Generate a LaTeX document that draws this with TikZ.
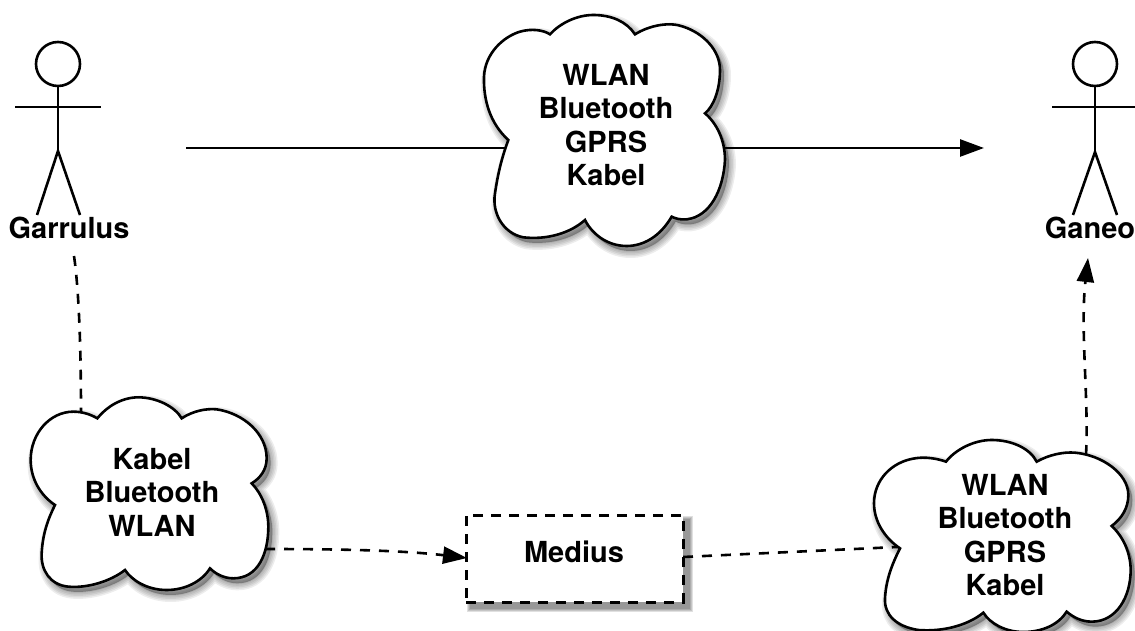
\documentclass[tikz,border=0pt]{standalone}
\usepackage{fontspec}
\setmainfont{TeX Gyre Heros}
\usetikzlibrary{arrows.meta,backgrounds}
\newcommand{\cloudTop}{(240,103) .. controls (270,70) and (320,45) .. (370,45) .. controls (425,45) and (470,65) .. (495,103)
 .. controls (540,75) and (600,65) .. (640,80) .. controls (700,100) and (750,150) .. (750,210) .. controls (750,270) and (730,320) .. (705,340)
 .. controls (740,370) and (765,420) .. (765,480) .. controls (760,570) and (720,650) .. (650,658) .. controls (630,660) and (615,655) .. (605,650)
 .. controls (570,710) and (520,738) .. (470,738) .. controls (410,738) and (365,700) .. (345,660)
 .. controls (300,700) and (230,720) .. (160,712) .. controls (100,700) and (65,640) .. (75,580) .. controls (85,510) and (100,460) .. (115,420)
 .. controls (60,370) and (40,300) .. (42,230) .. controls (45,160) and (100,110) .. (150,95) .. controls (185,85) and (220,90) .. (240,103) -- cycle}
\newcommand{\cloudLeft}{(292,85) .. controls (320,50) and (365,22) .. (415,22) .. controls (470,22) and (525,50) .. (545,85)
 .. controls (580,62) and (620,55) .. (650,58) .. controls (730,70) and (800,130) .. (800,205) .. controls (800,240) and (780,265) .. (755,280)
 .. controls (785,310) and (805,360) .. (805,410) .. controls (805,490) and (775,565) .. (700,565) .. controls (670,565) and (645,550) .. (630,535)
 .. controls (605,575) and (555,600) .. (500,600) .. controls (440,600) and (395,570) .. (375,540)
 .. controls (330,575) and (260,595) .. (205,590) .. controls (150,585) and (122,540) .. (125,490) .. controls (128,430) and (145,385) .. (165,345)
 .. controls (120,315) and (92,265) .. (92,210) .. controls (92,130) and (150,65) .. (220,65) .. controls (245,65) and (270,72) .. (292,85) -- cycle}
\newcommand{\cloudRight}{(258,95) .. controls (285,60) and (340,30) .. (395,30) .. controls (455,30) and (510,55) .. (530,95)
 .. controls (565,75) and (610,65) .. (645,68) .. controls (725,75) and (805,130) .. (805,195) .. controls (805,235) and (785,265) .. (755,288)
 .. controls (790,320) and (812,370) .. (812,420) .. controls (812,500) and (770,575) .. (695,575) .. controls (665,575) and (640,562) .. (620,545)
 .. controls (595,585) and (545,606) .. (490,606) .. controls (435,606) and (390,580) .. (370,548)
 .. controls (325,585) and (250,606) .. (175,600) .. controls (110,590) and (72,555) .. (75,505) .. controls (78,445) and (100,395) .. (120,355)
 .. controls (75,325) and (42,275) .. (42,220) .. controls (42,150) and (95,95) .. (165,85) .. controls (195,80) and (230,85) .. (258,95) -- cycle}
\tikzset{
  px/.style={x=1pt,y=-1pt},
  zoomcoords/.style={x=.33333pt,y=-.33333pt},
  stroke/.style={draw=black,line width=2.6pt},
  softshadow/.style={fill=black,draw=black,opacity=.07,line join=round},
  cloudline/.style={stroke,fill=white,line join=miter},
  label/.style={font=\fontsize{29}{33.5}\selectfont\bfseries,align=center,text=black,inner sep=0pt},
  head/.style={circle,stroke,minimum size=44pt,inner sep=0pt},
  limb/.style={stroke},
  solidlink/.style={stroke,-{Triangle[length=24pt,width=17pt]}},
  dashlink/.style={stroke,dash pattern=on 10pt off 9pt,-{Triangle[length=24pt,width=17pt]}},
  dashplain/.style={stroke,dash pattern=on 10pt off 9pt},
  mediusbox/.style={draw=black,line width=3pt,dash pattern=on 10pt off 8pt,fill=white,minimum width=217pt,minimum height=87pt,inner sep=0pt}
}
\newcommand{\softcloud}[3]{%
  \foreach \w in {14,11,8,5,2}{
    \begin{scope}[shift={(#1+4,#2+5)},zoomcoords]
      \path[softshadow,line width=\w pt] #3;
    \end{scope}
  }
  \begin{scope}[shift={(#1,#2)},zoomcoords]
    \path[cloudline] #3;
  \end{scope}}
\begin{document}
\begin{tikzpicture}[px]
\useasboundingbox (0,0) rectangle (1135,631);
% clouds
\softcloud{470}{0}{\cloudTop}
\softcloud{0}{390}{\cloudLeft}
\softcloud{860}{430}{\cloudRight}
\node[label] (cloudA) at (606,125) {WLAN\\Bluetooth\\GPRS\\Kabel};
\node[label] (cloudB) at (152,492) {Kabel\\Bluetooth\\WLAN};
\node[label] (cloudC) at (1005,535) {WLAN\\Bluetooth\\GPRS\\Kabel};
% medius
\foreach \w in {8,6,4,2}{
  \fill[black,opacity=.12] (471-\w/2,520-\w/2) rectangle (689+\w/2,608+\w/2);
}
\node[mediusbox] (medius) at (574.5,558.5) {};
\node[label] (mediusText) at (574,552) {Medius};
% actors
\node[head] (headG) at (58,64) {};
\coordinate (hipG) at (58,151);
\coordinate (armGl) at (15,107);
\coordinate (armGr) at (101,107);
\coordinate (footGl) at (37,215);
\coordinate (footGr) at (80,215);
\draw[limb] (headG.south) -- (hipG);
\draw[limb] (armGl) -- (armGr);
\draw[limb] (footGl) -- (hipG) -- (footGr);
\node[label] (garrulus) at (69,228) {Garrulus};
\node[head] (headR) at (1095,64) {};
\coordinate (hipR) at (1095,152);
\coordinate (armRl) at (1052,107);
\coordinate (armRr) at (1135,107);
\coordinate (footRl) at (1073,215);
\coordinate (footRr) at (1117,215);
\draw[limb] (headR.south) -- (hipR);
\draw[limb] (armRl) -- (armRr);
\draw[limb] (footRl) -- (hipR) -- (footRr);
\node[label] (ganeo) at (1090,228) {Ganeo};
% connector ends
\coordinate (solidStart) at (186,148);
\coordinate (solidEnd) at (984,148);
\coordinate (gDash) at (74,256);
\coordinate (bTop) at (81,412);
\coordinate (bRight) at (265,549);
\coordinate (mIn) at (467,558);
\coordinate (mOut) at (683,557);
\coordinate (cLeft) at (897,547);
\coordinate (cTop) at (1086,455);
\coordinate (gIn) at (1088,258);
\begin{scope}[on background layer]
  \draw[solidlink] (solidStart) -- (solidEnd);
  \draw[dashplain] (gDash) .. controls (79,290) and (81,350) .. (bTop);
  \draw[dashlink] (bRight) .. controls (330,549) and (400,550) .. (mIn);
  \draw[dashplain] (mOut) -- (cLeft);
  \draw[dashlink] (cTop) .. controls (1089,400) and (1080,330) .. (gIn);
\end{scope}
\end{tikzpicture}
\end{document}
